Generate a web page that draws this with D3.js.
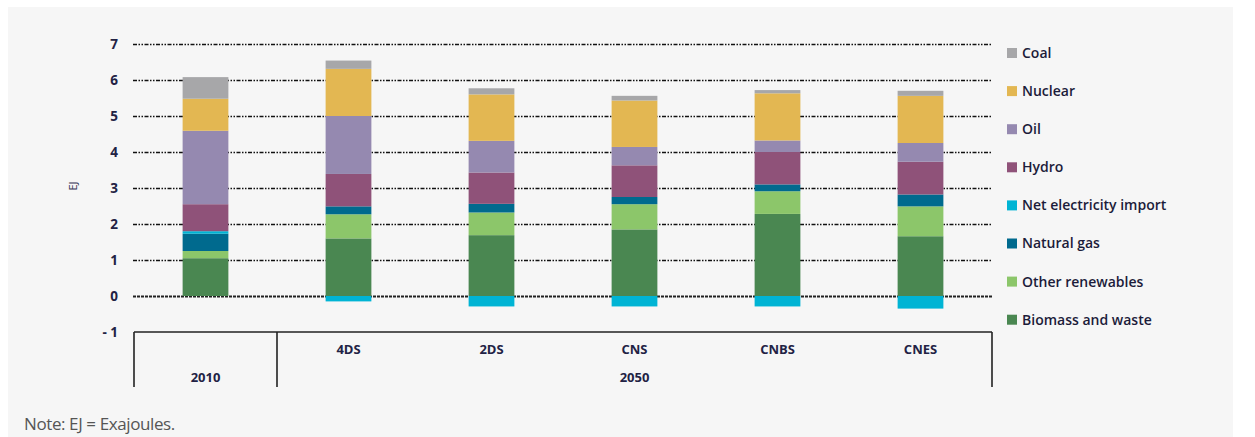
<!DOCTYPE html>
<html>
<head>
<meta charset="utf-8">
<script src="https://cdn.jsdelivr.net/npm/d3@7"></script>
<style>
  html, body { margin: 0; padding: 0; background: #ffffff; }
  svg { display: block; }
  text { font-family: "Open Sans", "DejaVu Sans", sans-serif; }
</style>
</head>
<body>
<svg id="chart" width="1255" height="437"></svg>
<script>
// ---- data ----
const categories = ["2010", "4DS", "2DS", "CNS", "CNBS", "CNES"];
const groupLabels = ["2010", "2050"];
const seriesNames = ["Biomass and waste", "Other renewables", "Natural gas", "Net electricity import", "Hydro", "Oil", "Nuclear", "Coal"];
const biomass   = [1.05, 1.60, 1.69, 1.85, 2.28, 1.66];
const otherRen  = [0.20, 0.67, 0.63, 0.70, 0.63, 0.83];
const natGas    = [0.48, 0.22, 0.24, 0.20, 0.19, 0.33];
const netImport = [0.07, -0.15, -0.29, -0.29, -0.29, -0.35];
const hydro     = [0.75, 0.90, 0.87, 0.88, 0.90, 0.91];
const oil       = [2.04, 1.61, 0.88, 0.51, 0.32, 0.52];
const nuclear   = [0.89, 1.31, 1.29, 1.29, 1.31, 1.31];
const coal      = [0.60, 0.23, 0.17, 0.13, 0.09, 0.14];
const yTicks    = [-1, 0, 1, 2, 3, 4, 5, 6, 7];
const seriesColors = ["#4a8751", "#8cc66a", "#006a8e", "#00b4d4", "#8f5279", "#9589b0", "#e3b752", "#a7a7a9"];

const seriesValues = [biomass, otherRen, natGas, netImport, hydro, oil, nuclear, coal];

const svg = d3.select("#chart");

// background panel
svg.append("rect").attr("x", 8).attr("y", 7).attr("width", 1225).attr("height", 430).attr("fill", "#f6f6f6");

const x = d3.scaleBand().domain(categories).range([134, 992]).paddingInner(0.68).paddingOuter(0.34);
const y = d3.scaleLinear().domain([-1, 7]).range([332, 44]);

// gridlines
const gridTicks = yTicks.filter(t => t >= 0);
svg.append("g").selectAll("line").data(gridTicks).join("line")
  .attr("x1", 133).attr("x2", 992)
  .attr("y1", d => Math.round(y(d)) + 0.5).attr("y2", d => Math.round(y(d)) + 0.5)
  .attr("stroke", d => d === 0 ? "#222" : "#111")
  .attr("stroke-width", d => d === 0 ? 2 : 1.7)
  .attr("stroke-dasharray", d => d === 0 ? "3,1" : "4,1.5,1.5,1.5,1.5,1.5");

// y tick labels
svg.append("g").selectAll("text").data(yTicks).join("text")
  .attr("x", 118).attr("y", d => y(d)).attr("dy", "0.35em")
  .attr("text-anchor", "end")
  .attr("font-size", 13.5).attr("font-weight", 700).attr("fill", "#222244")
  .text(d => d < 0 ? "- " + Math.abs(d) : d);

// y axis title
svg.append("text").attr("transform", "translate(77,186) rotate(-90)")
  .attr("text-anchor", "middle").attr("font-size", 11).attr("fill", "#333355").text("EJ");

// stacked bars (positive and negative stacked separately)
const bars = svg.append("g");
categories.forEach((c, i) => {
  let pos = 0, neg = 0;
  seriesValues.forEach((vals, s) => {
    const v = vals[i];
    let y0, y1;
    if (v >= 0) { y0 = pos; y1 = pos + v; pos = y1; }
    else { y0 = neg + v; y1 = neg; neg = y0; }
    bars.append("rect")
      .attr("x", x(c)).attr("width", x.bandwidth())
      .attr("y", y(y1)).attr("height", Math.max(0, y(y0) - y(y1)))
      .attr("fill", seriesColors[s]);
  });
});

// category box
const box = svg.append("g").attr("stroke", "#222").attr("stroke-width", 1.6).attr("fill", "none");
const boxTop = y(-1), boxBottom = 387;
box.append("line").attr("x1", 134).attr("x2", 992).attr("y1", boxTop).attr("y2", boxTop);
const sepX = x("4DS") - x.step() * x.paddingInner() / 2;
[134, sepX, 992].forEach(xx => {
  box.append("line").attr("x1", xx).attr("x2", xx).attr("y1", boxTop).attr("y2", boxBottom);
});

// category labels
svg.append("g").selectAll("text").data(categories.slice(1)).join("text")
  .attr("x", d => x(d) + x.bandwidth() / 2).attr("y", 349).attr("dy", "0.35em")
  .attr("text-anchor", "middle").attr("font-size", 13).attr("font-weight", 700).attr("fill", "#222244")
  .text(d => d);
svg.append("text").attr("x", x("2010") + x.bandwidth() / 2).attr("y", 377).attr("dy", "0.35em")
  .attr("text-anchor", "middle").attr("font-size", 13).attr("font-weight", 700).attr("fill", "#222244")
  .text(groupLabels[0]);
svg.append("text").attr("x", (sepX + 992) / 2).attr("y", 377).attr("dy", "0.35em")
  .attr("text-anchor", "middle").attr("font-size", 13).attr("font-weight", 700).attr("fill", "#222244")
  .text(groupLabels[1]);

// legend (top to bottom: reverse of stack order)
const legendItems = seriesNames.map((n, i) => ({ name: n, color: seriesColors[i] })).reverse();
const lg = svg.append("g").selectAll("g").data(legendItems).join("g")
  .attr("transform", (d, i) => `translate(1007, ${53 + i * 38.1})`);
lg.append("rect").attr("x", 0).attr("y", -5).attr("width", 10).attr("height", 10).attr("fill", d => d.color);
lg.append("text").attr("x", 15).attr("y", 0).attr("dy", "0.35em")
  .attr("font-size", 14).attr("font-weight", 600).attr("fill", "#1c1c3a").text(d => d.name);

// note
svg.append("text").attr("x", 24).attr("y", 424).attr("dy", "0.35em")
  .attr("font-size", 17).attr("fill", "#555").attr("letter-spacing", "-0.4")
  .text("Note: EJ = Exajoules.");
</script>
</body>
</html>
